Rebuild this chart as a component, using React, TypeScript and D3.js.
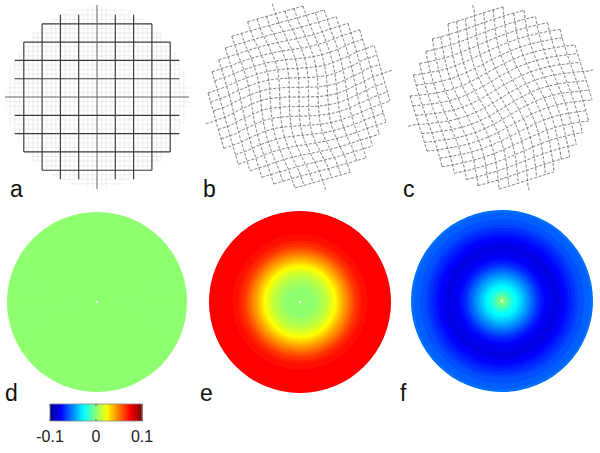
import React from 'react';
import * as d3 from 'd3';

// radial profiles (r normalised to the disc radius)
const profileRadius = [0, 0.05, 0.1, 0.2, 0.3, 0.4, 0.5, 0.6, 0.7, 0.85, 1];
const fieldD = [0, 0, 0, 0, 0, 0, 0, 0, 0, 0, 0];
const fieldE = [0, 0, 0.001, 0.004, 0.012, 0.025, 0.044, 0.061, 0.071, 0.074, 0.074];
const fieldF = [0.004, -0.006, -0.018, -0.033, -0.05, -0.068, -0.079, -0.082, -0.075, -0.062, -0.055];

// grid rotation (degrees) against normalised radius, panels b and c
const twistRadius = [0, 0.2, 0.4, 0.6, 0.8, 1];
const twistB = [0, -1, -5, -11, -15, -16];
const twistC = [-32, -31, -28, -24, -20, -17];

const colorTicks = [-0.1, 0, 0.1];
const topLabels = ['a', 'b', 'c'];
const bottomLabels = ['d', 'e', 'f'];

const W = 600;
const H = 453;
const FONT = 'Liberation Sans, Arial, sans-serif';

// matlab-style jet, 64 levels
const jetSmooth = d3.scaleLinear<string>()
  .domain([0, 0.125, 0.375, 0.625, 0.875, 1])
  .range(['#000080', '#0000ff', '#00ffff', '#ffff00', '#ff0000', '#800000'])
  .clamp(true);
const toUnit = d3.scaleLinear().domain([-0.1, 0.1]).range([0, 1]).clamp(true);
const jet = (v: number) => {
  const k = Math.min(64, Math.floor(toUnit(v) * 64) + 1);
  return jetSmooth(k / 64);
};

type Pt = [number, number];

// straight grid lines clipped to a stepped disc, in local coords
const gridLines = (R: number, step: number, n: number, quant: number, stub: number, skip = 0) => {
  const lines: { pts: Pt[]; axis: boolean }[] = [];
  for (let k = -n; k <= n; k++) {
    if (skip && k % skip === 0) continue;
    const o = k * step;
    if (Math.abs(o) >= R) continue;
    const ext = k === 0 ? R + stub : Math.floor(Math.sqrt(R * R - o * o) / quant) * quant;
    if (ext <= 0) continue;
    const ts = d3.range(-ext, ext, 1).concat([ext]);
    lines.push({ pts: ts.map(t => [t, o] as Pt), axis: k === 0 });
    lines.push({ pts: ts.map(t => [o, t] as Pt), axis: k === 0 });
  }
  return lines;
};

const line = d3.line<Pt>().x(d => d[0]).y(d => d[1]);

const GridA = ({ cx, cy }: { cx: number; cy: number }) => {
  const step = 18.3;
  const minor = gridLines(92, step / 4, 19, step / 2, 0, 4);
  const major = gridLines(92, step, 4, step / 2, 0);
  const shift = (p: Pt): Pt => [cx + p[0], cy + p[1]];
  return (
    <g fill="none">
      {minor.map((l, i) => (
        <path key={'m' + i} d={line(l.pts.map(shift)) || ''} stroke="#e8e8e8" strokeWidth={0.8} />
      ))}
      {major.map((l, i) => (
        <path key={'M' + i} d={line(l.pts.map(shift)) || ''}
          stroke={l.axis ? '#666' : '#383838'} strokeWidth={l.axis ? 1 : 1.15} />
      ))}
    </g>
  );
};

const TwistGrid = ({ cx, cy, twist }: { cx: number; cy: number; twist: number[] }) => {
  const R = 92;
  const rot = d3.scaleLinear().domain(twistRadius).range(twist).clamp(true);
  const warp = (p: Pt): Pt => {
    const r = Math.hypot(p[0], p[1]) / R;
    const th = (rot(r) * Math.PI) / 180;
    const c = Math.cos(th), s = Math.sin(th);
    return [cx + p[0] * c - p[1] * s, cy + p[0] * s + p[1] * c];
  };
  const lines = gridLines(R, 9.6, 9, 9.6, 5);
  return (
    <g fill="none">
      {lines.map((l, i) => (
        <path key={i} d={line(l.pts.map(warp)) || ''} stroke="#666"
          strokeWidth={0.9} strokeDasharray="3 1.6" />
      ))}
    </g>
  );
};

const Disc = ({ cx, cy, R, field }: { cx: number; cy: number; R: number; field: number[] }) => {
  const val = d3.scaleLinear().domain(profileRadius).range(field).clamp(true);
  const radii = d3.range(R, 0, -0.5);
  return (
    <g>
      {radii.map(r => (
        <circle key={r} cx={cx} cy={cy} r={r} fill={jet(val(r / R))} />
      ))}
      <circle cx={cx} cy={cy} r={1.2} fill="#f4f4f4" />
    </g>
  );
};

const ColorBar = () => {
  const x = d3.scaleLinear().domain([-0.1, 0.1]).range([50, 142]);
  const y0 = 404, h = 17;
  const steps = d3.range(-0.1, 0.1, 0.2 / 64);
  return (
    <g>
      {steps.map(v => (
        <rect key={v} x={x(v)} y={y0} width={x(v + 0.2 / 64) - x(v) + 0.6} height={h} fill={jet(v + 0.1 / 64)} />
      ))}
      <rect x={x(-0.1)} y={y0} width={x(0.1) - x(-0.1)} height={h} fill="none" stroke="#888" strokeWidth={0.8} />
      {colorTicks.map(t => (
        <g key={t}>
          <line x1={x(t)} x2={x(t)} y1={y0} y2={y0 + 2} stroke="#555" strokeWidth={0.8} />
          <line x1={x(t)} x2={x(t)} y1={y0 + h - 2} y2={y0 + h} stroke="#555" strokeWidth={0.8} />
          <text x={x(t)} y={442} textAnchor="middle" fontSize={16} fontFamily={FONT} fill="#222">
            {d3.format('.1~f')(t).replace('−', '-')}
          </text>
        </g>
      ))}
    </g>
  );
};

export default function App() {
  const colX = [0, 200, 400];
  return (
    <svg width={W} height={H} style={{ position: 'absolute', left: 0, top: 0, background: '#fff' }}>
      <rect width={W} height={H} fill="#fff" />
      <GridA cx={97} cy={97} />
      <TwistGrid cx={299} cy={97} twist={twistB} />
      <TwistGrid cx={501} cy={98} twist={twistC} />

      <Disc cx={97} cy={302} R={90} field={fieldD} />
      <Disc cx={300} cy={302} R={91} field={fieldE} />
      <Disc cx={502} cy={301} R={91} field={fieldF} />

      <ColorBar />

      {topLabels.map((l, i) => (
        <text key={l} x={colX[i] + (i === 0 ? 10 : 3)} y={197} fontSize={23} fontFamily={FONT} fill="#111">{l}</text>
      ))}
      {bottomLabels.map((l, i) => (
        <text key={l} x={colX[i] + (i === 0 ? 5 : 0)} y={401} fontSize={23} fontFamily={FONT} fill="#111">{l}</text>
      ))}
    </svg>
  );
}
